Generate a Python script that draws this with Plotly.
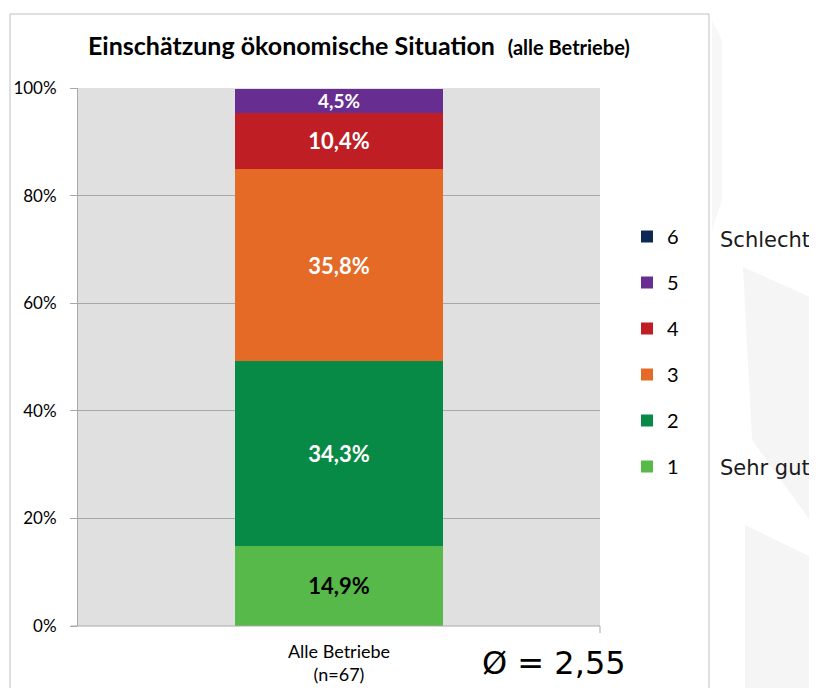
import plotly.graph_objects as go

# page body has an 8px margin; build the figure in window coordinates
OFF = 8
W, H = 817 - OFF, 688 - OFF

categories = ["Alle Betriebe<br>(n=67)"]
ratings = ["1", "2", "3", "4", "5", "6"]
shares = [14.9, 34.3, 35.8, 10.4, 4.5, 0.0]
colors = ["#57B94A", "#078A45", "#E46A26", "#BE1E24", "#672D91", "#0E2A54"]
label_colors = ["#000000", "#FFFFFF", "#FFFFFF", "#FFFFFF", "#FFFFFF", "#FFFFFF"]
label_sizes = [22, 22, 22, 22, 19, 19]
y_ticks = [0, 20, 40, 60, 80, 100]
y_tick_text = ["0%", "20%", "40%", "60%", "80%", "100%"]
mean_value = "2,55"


def px(x):
    return (x - OFF) / W


def py(y):
    return 1 - (y - OFF) / H


fig = go.Figure()
n = len(ratings)
for i, (r, v, c, lc, ls) in enumerate(zip(ratings, shares, colors, label_colors, label_sizes)):
    fig.add_trace(go.Bar(
        x=categories, y=[v], name=r, legendgroup=r, legendrank=n - i,
        marker=dict(color=c, line=dict(width=0)),
        text=[f"{v:.1f}%".replace(".", ",") if v > 0 else ""],
        textposition="inside", insidetextanchor="middle",
        textangle=0, constraintext="none",
        textfont=dict(family="Lato", size=ls, color=lc, weight="bold"),
        hoverinfo="skip",
    ))

font_ui = "Lato, Open Sans, sans-serif"

fig.update_layout(
    width=W, height=H,
    margin=dict(l=0, r=0, t=0, b=0, autoexpand=False),
    paper_bgcolor="white",
    plot_bgcolor="#E0E0E0",
    barmode="stack", bargap=0.6,
    separators=",.",
    showlegend=True,
    legend=dict(
        x=px(627), y=py(217), xanchor="left", yanchor="top",
        traceorder="grouped", tracegroupgap=17,
        font=dict(family=font_ui, size=20, color="#000000"),
        bgcolor="rgba(0,0,0,0)", itemwidth=30,
    ),
    xaxis=dict(
        domain=[px(78), px(600)], range=[-0.5, 0.5],
        showgrid=False, zeroline=False, showline=False,
        ticks="", ticklabelstandoff=13, automargin=False,
        tickfont=dict(family=font_ui, size=18, color="#000000"),
        fixedrange=True,
    ),
    yaxis=dict(
        domain=[py(626), py(88)], range=[0, 100],
        tickvals=y_ticks, ticktext=y_tick_text,
        showgrid=True, gridcolor="#A8A8A8", gridwidth=1,
        zeroline=False, automargin=False,
        showline=True, linecolor="#A8A8A8", linewidth=1,
        ticks="outside", ticklen=7, tickcolor="#A8A8A8",
        ticklabelstandoff=10,
        tickfont=dict(family=font_ui, size=17, color="#000000"),
        fixedrange=True,
    ),
)

shapes = []
# faint watermark shapes on the right
shapes.append(dict(type="path", xref="paper", yref="paper",
                   path=f"M {px(743)},{py(267)} L {px(817)},{py(300)} L {px(817)},{py(530)} L {px(752)},{py(440)} Z",
                   fillcolor="#F5F5F5", line=dict(width=0), layer="below"))
shapes.append(dict(type="path", xref="paper", yref="paper",
                   path=f"M {px(745)},{py(525)} L {px(817)},{py(560)} L {px(817)},{py(688)} L {px(745)},{py(688)} Z",
                   fillcolor="#F5F5F5", line=dict(width=0), layer="below"))
shapes.append(dict(type="path", xref="paper", yref="paper",
                   path=f"M {px(712)},{py(20)} L {px(722)},{py(40)} L {px(722)},{py(200)} L {px(712)},{py(230)} Z",
                   fillcolor="#F7F7F7", line=dict(width=0), layer="below"))
# chart frame
shapes.append(dict(type="rect", xref="paper", yref="paper",
                   x0=px(10), x1=px(709), y0=py(700), y1=py(14),
                   fillcolor="rgba(0,0,0,0)", line=dict(color="#BFBFBF", width=1), layer="below"))
# x-axis line and boundary tick
shapes.append(dict(type="line", xref="paper", yref="paper",
                   x0=px(600), x1=px(600), y0=py(626), y1=py(633),
                   line=dict(color="#A8A8A8", width=1)))
shapes.append(dict(type="line", xref="paper", yref="paper",
                   x0=px(71), x1=px(600), y0=py(626), y1=py(626),
                   line=dict(color="#A8A8A8", width=1)))
fig.update_layout(shapes=shapes)

annotations = [
    dict(text="<b>Einschätzung ökonomische Situation</b>  <b><span style='font-size:20px'>(alle Betriebe)</span></b>",
         x=px(359), y=py(45), xref="paper", yref="paper", showarrow=False,
         xanchor="center", yanchor="middle",
         font=dict(family=font_ui, size=25, color="#000000")),
    dict(text="Schlecht", x=px(718), y=py(240), xref="paper", yref="paper",
         showarrow=False, xanchor="left", yanchor="middle",
         font=dict(family="DejaVu Sans", size=21, color="#1A1A1A")),
    dict(text="Sehr gut", x=px(718), y=py(468), xref="paper", yref="paper",
         showarrow=False, xanchor="left", yanchor="middle",
         font=dict(family="DejaVu Sans", size=21, color="#1A1A1A")),
    dict(text=f"Ø = {mean_value}", x=px(480), y=py(663), xref="paper", yref="paper",
         showarrow=False, xanchor="left", yanchor="middle",
         font=dict(family="DejaVu Sans", size=32, color="#000000")),
]
fig.update_layout(annotations=annotations)

fig.write_html("out.html")
